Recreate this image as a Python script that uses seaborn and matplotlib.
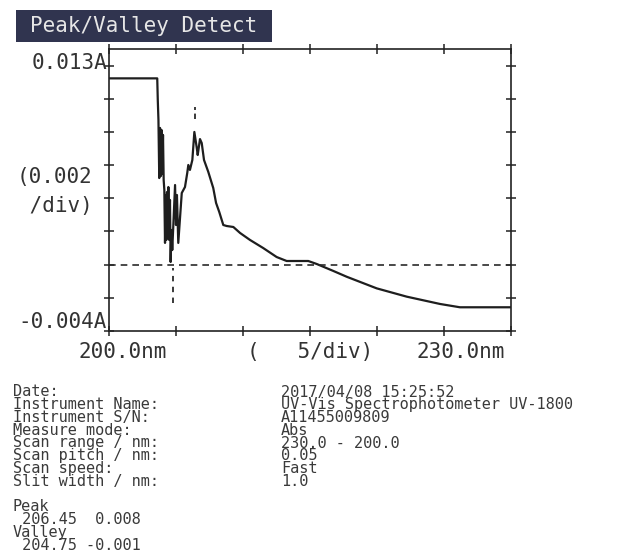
import numpy as np
import pandas as pd
import seaborn as sns
import matplotlib.pyplot as plt
from matplotlib.patches import Rectangle

# spectrum (nm, Abs)
wavelength = [200.00, 203.60, 203.64, 203.69, 203.75, 203.81, 203.87, 203.92, 203.98, 204.03,
              204.08, 204.13, 204.18, 204.23, 204.28, 204.33, 204.37, 204.43, 204.49, 204.55,
              204.60, 204.66, 204.72, 204.93, 205.00, 205.07, 205.17, 205.43, 205.67, 205.84,
              205.92, 206.04, 206.22, 206.37, 206.54, 206.62, 206.79, 206.92, 207.09, 207.41,
              207.78, 207.99, 208.23, 208.53, 208.78, 209.28, 209.78, 210.52, 211.51, 212.51,
              213.26, 214.87, 215.50, 216.74, 217.74, 219.98, 222.22, 224.70, 226.19, 230.00]
absorbance = [0.01123, 0.01123, 0.00993, 0.00872, 0.00522, 0.00824, 0.00534, 0.00812, 0.00546, 0.00782,
              0.00510, 0.00450, 0.00131, 0.00420, 0.00149, 0.00438, 0.00161, 0.00468, 0.00149, 0.00390,
              0.00016, 0.00209, 0.00088, 0.00480, 0.00239, 0.00420, 0.00131, 0.00432, 0.00468, 0.00553,
              0.00601, 0.00571, 0.00631, 0.00800, 0.00709, 0.00661, 0.00757, 0.00733, 0.00631, 0.00559,
              0.00462, 0.00372, 0.00317, 0.00239, 0.00233, 0.00227, 0.00191, 0.00149, 0.00100, 0.00046,
              0.00022, 0.00022, 0.00004, -0.00038, -0.00073, -0.00143, -0.00193, -0.00237, -0.00257, -0.00257]

peak_wl = 206.45
peak_mark = [0.0088, 0.0095]
valley_wl = 204.75
valley_mark = [-0.0023, -0.0002]

x_ticks = [200, 205, 210, 215, 220, 225, 230]
y_ticks = [-0.004, -0.002, 0.000, 0.002, 0.004, 0.006, 0.008, 0.010, 0.012]

info_labels = ["Date:", "Instrument Name:", "Instrument S/N:", "Measure mode:",
               "Scan range / nm:", "Scan pitch / nm:", "Scan speed:", "Slit width / nm:"]
info_values = ["2017/04/08 15:25:52", "UV-Vis Spectrophotometer UV-1800", "A11455009809", "Abs",
               "230.0 - 200.0", "0.05", "Fast", "1.0"]
pv_lines = ["Peak", " 206.45  0.008", "Valley", " 204.75 -0.001"]

df = pd.DataFrame({"wavelength": wavelength, "absorbance": absorbance})

sns.set_style("white")
plt.rcParams["font.family"] = ["DejaVu Sans Mono", "DejaVu Sans"]

W, H = 618, 554
fig = plt.figure(figsize=(W / 100, H / 100), dpi=100)

def fx(px):
    return px / W

def fy(py):
    return 1 - py / H

ax = fig.add_axes([fx(109), fy(331), (511 - 109) / W, (331 - 49) / H])

sns.lineplot(data=df, x="wavelength", y="absorbance", ax=ax, color="#1e1e1e",
             linewidth=1.6, estimator=None, sort=False)
ax.axhline(0, color="#2a2a2a", linewidth=1.2, linestyle=(0, (4, 3)))
ax.plot([peak_wl, peak_wl], peak_mark, color="#2a2a2a", linewidth=1.3, linestyle=(0, (3, 2)))
ax.plot([valley_wl, valley_wl], valley_mark, color="#2a2a2a", linewidth=1.3, linestyle=(0, (3, 3)))

ax.set_xlim(200, 230)
ax.set_ylim(-0.004, 0.013)
ax.set_xticks(x_ticks)
ax.set_yticks(y_ticks)
ax.set_xlabel("")
ax.set_ylabel("")
ax.tick_params(direction="inout", length=7, width=1.1, colors="#222",
               top=True, right=True, bottom=True, left=True,
               labelleft=False, labelbottom=False)
for s in ax.spines.values():
    s.set_color("#222")
    s.set_linewidth(1.2)

# title block
fig.patches.append(Rectangle((fx(16), fy(42)), (272 - 16) / W, 32 / H,
                             transform=fig.transFigure, facecolor="#30344f",
                             edgecolor="none"))
fig.text(fx(30), fy(26), "Peak/Valley Detect", color="#e6e6e6", fontsize=15,
         ha="left", va="center")

# axis annotations in the printer style
lab = dict(fontsize=15, color="#333", va="center")
fig.text(fx(107), fy(63), "0.013A", ha="right", **lab)
fig.text(fx(107), fy(322), "-0.004A", ha="right", **lab)
fig.text(fx(17), fy(177), "(0.002", ha="left", **lab)
fig.text(fx(17), fy(206), " /div)", ha="left", **lab)
fig.text(fx(79), fy(352), "200.0nm", ha="left", **lab)
fig.text(fx(247), fy(352), "(   5/div)", ha="left", **lab)
fig.text(fx(505), fy(352), "230.0nm", ha="right", **lab)

# measurement info, one text per printed line
txt = dict(fontsize=11, color="#3a3a3a", va="center", ha="left")
for i, (k, v) in enumerate(zip(info_labels, info_values)):
    y = 392 + 12.75 * i
    fig.text(fx(13), fy(y), k, **txt)
    fig.text(fx(281), fy(y), v, **txt)
for i, line in enumerate(pv_lines):
    fig.text(fx(13), fy(392 + 12.75 * (9 + i)), line, **txt)

fig.savefig("out.png", dpi=100, facecolor="white")
